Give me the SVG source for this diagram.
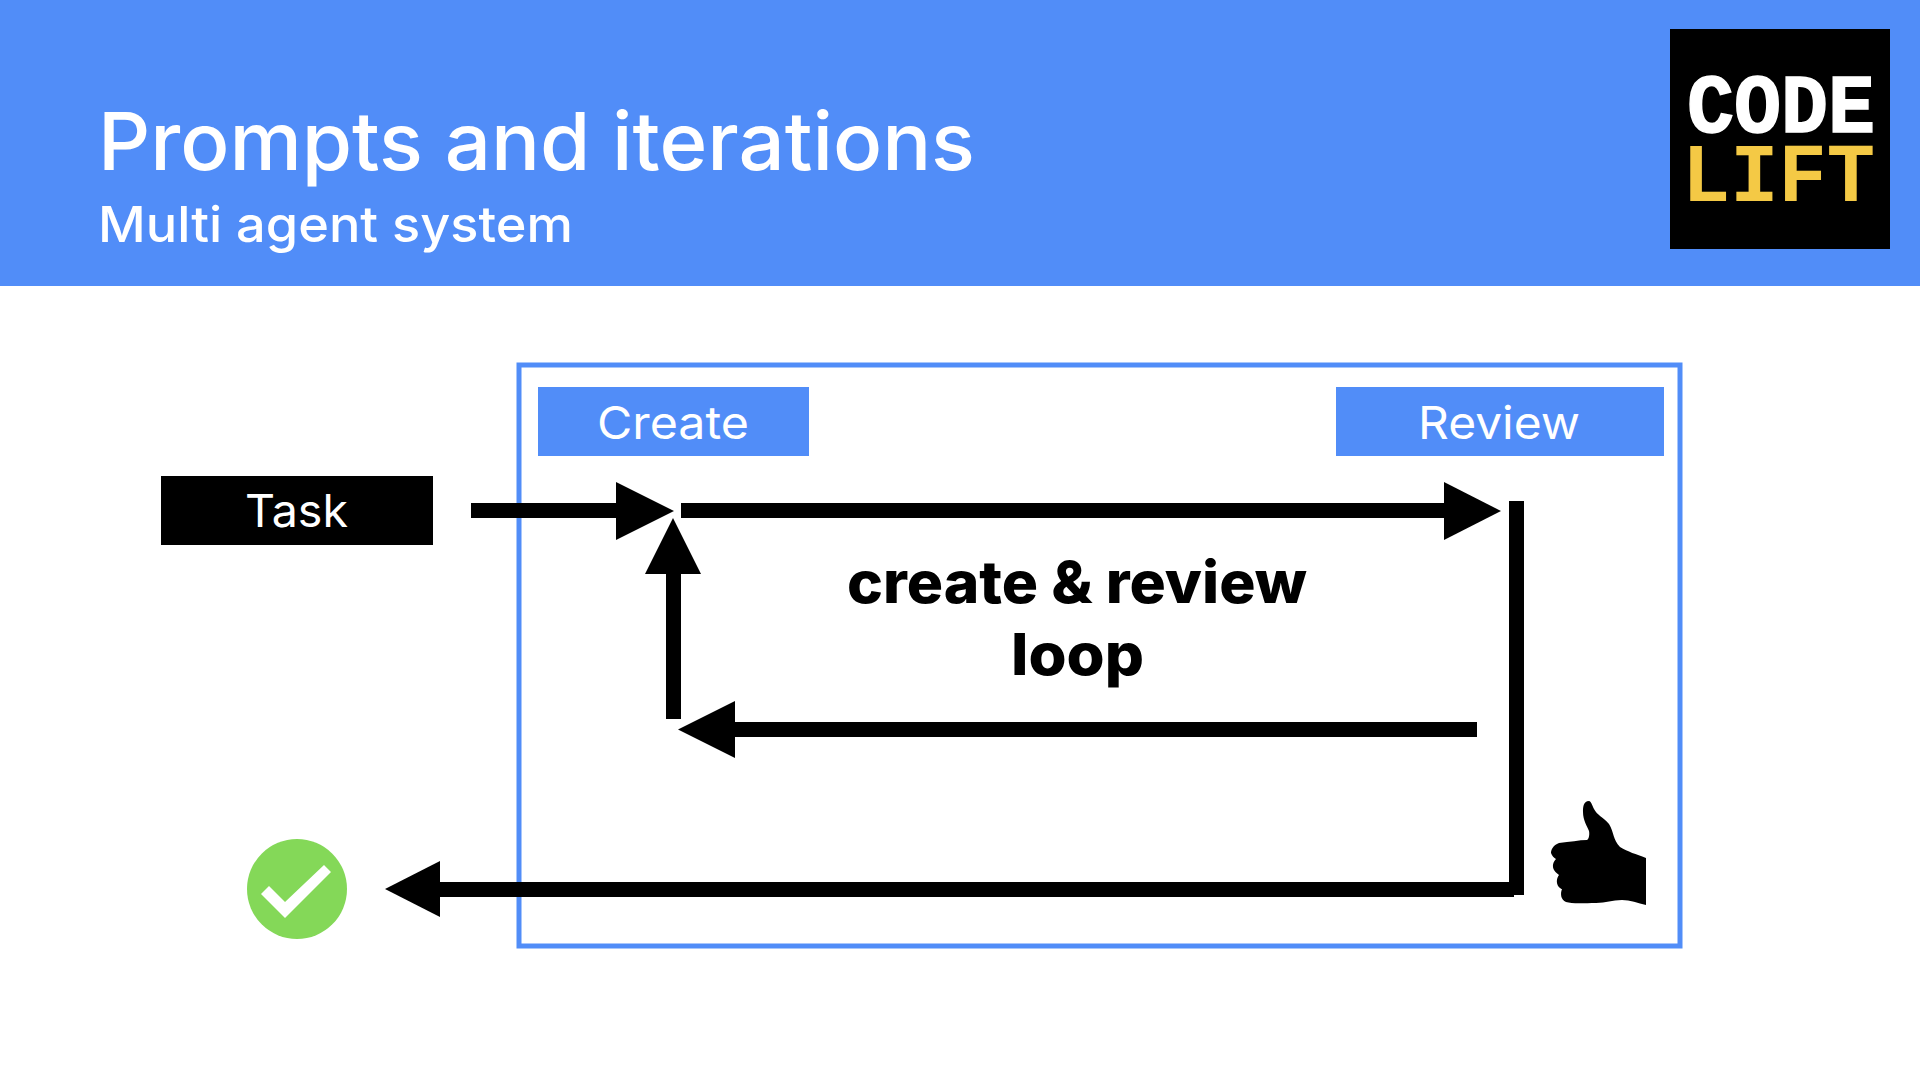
<svg xmlns="http://www.w3.org/2000/svg" width="1920" height="1080" viewBox="0 0 1920 1080">
  <style>
    text { font-family: "Inter", "Liberation Sans", sans-serif; }
    .label { font-size: 45px; fill: #fff; }
    .mono { font-family: "Liberation Mono", monospace; font-weight: 700; font-size: 84px; }
    .big { font-size: 58px; font-weight: 800; fill: #000; }
    .blue { fill: #518df8; }
  </style>
  <rect width="1920" height="1080" fill="#fff"/>
  <g id="header">
    <rect class="blue" width="1920" height="286"/>
    <text x="98" y="170" font-size="80" font-weight="500" fill="#fff" textLength="877" lengthAdjust="spacingAndGlyphs">Prompts and iterations</text>
    <text x="98" y="242" font-size="50" font-weight="500" fill="#fff" textLength="475" lengthAdjust="spacingAndGlyphs">Multi agent system</text>
  </g>
  <g id="logo">
    <rect x="1670" y="29" width="220" height="220" fill="#000"/>
    <text class="mono" x="1687" y="132" fill="#fff" stroke="#fff" stroke-width="1.5" textLength="188" lengthAdjust="spacingAndGlyphs">CODE</text>
    <text class="mono" x="1682" y="201" fill="#f4c945" textLength="193" lengthAdjust="spacingAndGlyphs">LIFT</text>
  </g>
  <rect id="frame" x="519" y="365" width="1161" height="581" fill="none" stroke="#518df8" stroke-width="5"/>
  <g id="create">
    <rect class="blue" x="538" y="387" width="271" height="69"/>
    <text class="label" x="597" y="439" textLength="152" lengthAdjust="spacingAndGlyphs">Create</text>
  </g>
  <g id="review">
    <rect class="blue" x="1336" y="387" width="328" height="69"/>
    <text class="label" x="1418" y="439" textLength="162" lengthAdjust="spacingAndGlyphs">Review</text>
  </g>
  <g id="task">
    <rect x="161" y="476" width="272" height="69" fill="#000"/>
    <text class="label" x="245" y="527" textLength="103" lengthAdjust="spacingAndGlyphs">Task</text>
  </g>
  <g id="loop-label">
    <text class="big" x="847" y="603" textLength="460" lengthAdjust="spacingAndGlyphs">create &amp; review</text>
    <text class="big" x="1011" y="675" textLength="133" lengthAdjust="spacingAndGlyphs">loop</text>
  </g>
  <g id="connectors" fill="#000">
    <!-- task into create -->
    <rect x="471" y="503" width="146" height="15"/>
    <polygon points="616,482 674,511 616,540"/>
    <!-- create to review -->
    <rect x="681" y="503" width="763" height="15"/>
    <polygon points="1444,482 1501,511 1444,540"/>
    <!-- review back to create -->
    <rect x="735" y="722" width="742" height="15"/>
    <polygon points="735,701 678,729.5 735,758"/>
    <polygon points="645,574 673,518 701,574"/>
    <rect x="666" y="574" width="15" height="145"/>
    <!-- approved exit -->
    <rect x="1509" y="501" width="15" height="394"/>
    <rect x="440" y="882" width="1074" height="15"/>
    <polygon points="440,861 385,889 440,917"/>
  </g>
  <g id="done">
    <circle cx="297" cy="889" r="50" fill="#84d858"/>
    <polygon fill="#fff" points="269,886 285,902 324,865 331,872 285,918 261,894"/>
  </g>
  <g id="thumb">
    <path fill="#000" d="M1589 801C1583 801 1583 808 1583 812C1583 820 1587 826 1589 831C1590 836 1588 840 1587 840C1579 840 1570 842 1559 843C1553 845 1551 850 1551 853C1552 856 1554 858 1556 859C1553 862 1552 866 1554 870C1556 873 1558 874 1559 875C1556 879 1556 885 1560 888C1561 889 1562 889 1562 889C1560 894 1561 900 1566 902C1572 904 1585 903 1596 903C1606 903 1612 900 1622 900C1630 900 1638 903 1646 905L1646 858C1636 854 1628 852 1620 847C1613 840 1614 832 1609 824C1603 817 1597 815 1594 809C1592 805 1591 801 1589 801Z"/>
  </g>
</svg>
